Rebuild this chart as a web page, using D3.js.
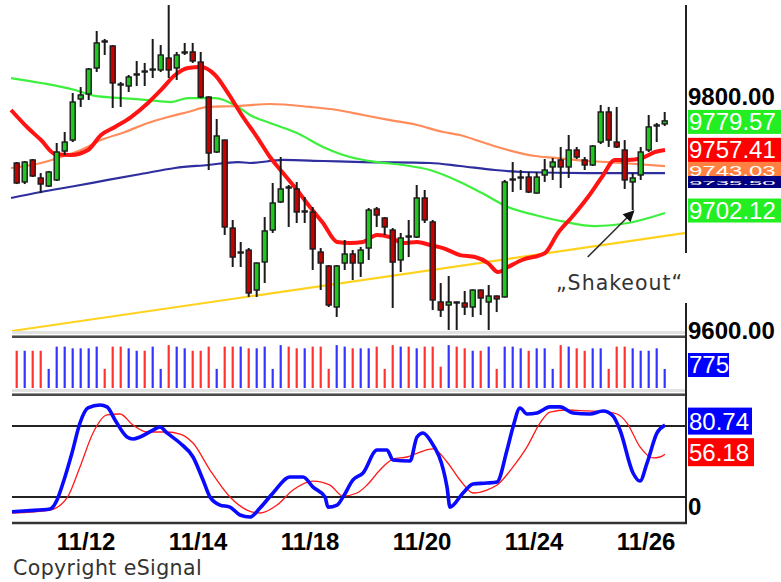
<!DOCTYPE html>
<html><head><meta charset="utf-8">
<script src="https://cdn.jsdelivr.net/npm/d3@7"></script>
<style>html,body{margin:0;padding:0;background:#fff;}svg{display:block}</style>
</head><body>
<svg id="chart" width="781" height="582"></svg>
<script>
// ---------- DATA ----------
// hourly bars, index 0..81
const openP = [9743.6,9727.4,9746.2,9730.8,9723.9,9729.1,9753.8,9763.2,9798.3,9802.6,
 9824.8,9847.9,9843.6,9811.1,9809.4,9818.8,9822.2,9823.1,9823.1,9833.3,
 9824.8,9837.6,9838.5,9829.9,9800.0,9753.0,9763.2,9688.0,9666.7,9669.2,
 9635.0,9659.0,9686.3,9710.3,9723.1,9721.4,9701.7,9701.7,9667.5,9655.6,
 9620.5,9658.1,9665.8,9658.1,9670.9,9704.3,9696.6,9686.3,9660.7,9681.2,
 9680.3,9713.7,9693.2,9624.8,9622.2,9624.8,9623.9,9620.5,9635.0,9624.8,
 9629.9,9629.1,9729.1,9730.8,9731.6,9717.9,9733.3,9740.2,9746.2,9740.2,
 9754.7,9746.2,9741.9,9761.5,9787.2,9761.5,9754.7,9727.4,9733.3,9754.7,
 9775.2,9777.0];
const highP = [9744.4,9745.3,9747.0,9735.0,9736.8,9760.7,9770.1,9803.4,9808.5,9824.8,
 9856.4,9849.6,9844.4,9812.8,9818.8,9830.8,9829.1,9849.6,9844.4,9878.6,
 9838.5,9846.2,9846.2,9838.5,9800.5,9781.2,9763.5,9694.9,9676.1,9670.9,
 9658.5,9697.4,9726.5,9748.7,9724.8,9727.4,9714.5,9706.0,9670.9,9656.4,
 9656.4,9677.8,9669.2,9671.8,9705.1,9706.0,9697.4,9688.0,9683.8,9694.9,
 9724.8,9720.5,9694.9,9641.0,9647.0,9625.2,9634.2,9635.5,9635.5,9639.3,
 9630.3,9729.1,9744.4,9737.6,9735.9,9735.9,9747.0,9747.9,9757.3,9767.5,
 9757.3,9748.7,9759.0,9793.2,9791.5,9791.5,9763.2,9735.0,9757.3,9784.6,
 9777.8,9787.2];
const lowP = [9725.6,9725.6,9731.6,9717.9,9723.1,9728.2,9750.4,9761.5,9791.5,9797.4,
 9821.4,9835.9,9790.6,9791.5,9804.3,9809.4,9809.4,9816.2,9821.4,9816.2,
 9814.5,9835.9,9829.1,9799.0,9737.6,9752.1,9682.1,9654.7,9654.7,9629.1,
 9629.1,9641.0,9683.8,9709.4,9688.9,9692.3,9692.3,9652.1,9635.0,9620.5,
 9612.0,9652.1,9643.6,9646.2,9660.7,9688.9,9682.1,9619.7,9650.4,9663.2,
 9679.5,9692.3,9617.9,9612.0,9600.9,9600.9,9613.7,9612.0,9613.7,9600.9,
 9616.2,9628.6,9718.8,9720.5,9717.9,9717.5,9727.4,9729.1,9722.2,9730.8,
 9747.0,9737.6,9741.0,9759.8,9757.3,9756.4,9721.4,9703.4,9729.1,9753.0,
 9761.5,9775.2];
const closeP = [9726.5,9744.4,9732.5,9725.6,9735.9,9753.0,9761.5,9795.7,9801.7,9823.9,
 9846.2,9847.0,9812.0,9810.3,9817.1,9819.7,9821.4,9823.9,9835.9,9823.1,
 9835.9,9838.5,9830.8,9800.0,9752.1,9766.7,9688.9,9663.2,9667.5,9632.5,
 9658.1,9685.5,9709.4,9721.4,9722.2,9701.7,9702.6,9670.1,9658.1,9622.2,
 9655.6,9665.8,9658.1,9669.2,9703.4,9699.1,9688.9,9658.9,9679.5,9680.3,
 9713.7,9694.9,9626.5,9617.9,9624.8,9624.2,9620.5,9635.0,9628.2,9629.9,
 9627.4,9727.4,9729.9,9731.6,9718.8,9731.6,9737.6,9744.4,9740.2,9754.7,
 9748.7,9741.9,9758.1,9787.2,9763.2,9757.3,9729.1,9730.8,9753.0,9774.4,
 9776.1,9779.57];
const volume = [1520,1520,1520,1520,780,1690,1690,1620,1620,1620,
 1690,780,1690,1690,1620,1520,1520,1690,780,1750,
 1690,1620,1520,1520,1690,780,1690,1690,1690,1620,
 1620,1690,780,1750,1690,1620,1620,1690,1690,780,
 1750,1690,1620,1620,1620,1690,780,1750,1690,1690,
 1620,1690,1690,870,1750,1690,1620,1520,1520,1690,
 780,1690,1690,1620,1520,1620,1620,780,1750,1690,
 1620,1520,1620,1620,780,1690,1690,1620,1520,1520,
 1620,775];

// date ticks: label and first bar of that day
const tickLabels = ["11/12","11/14","11/18","11/20","11/24","11/26"];
const tickBars = [5,19,33,47,61,75];
const priceTicks = [9600, 9800];

// moving averages, sampled [bar index, price]
const maRed = [[-0.71,9788.9],[1.41,9773.5],[3.04,9763.2],[4.79,9751.3],[6.79,9750.4],[8.91,9754.7],
 [10.54,9767.5],[12.29,9774.4],[14.29,9782.9],[16.41,9794.9],[18.04,9806.0],[19.79,9818.8],
 [21.41,9824.8],[23.04,9825.6],[24.79,9818.8],[26.41,9803.4],[28.29,9782.9],[30.04,9765.8],
 [31.66,9748.7],[33.29,9735.0],[35.04,9720.5],[36.66,9706.0],[38.29,9692.3],[40.04,9676.1],
 [41.66,9675.2],[43.29,9676.1],[45.04,9682.1],[46.66,9680.3],[48.29,9675.2],[50.04,9676.1],
 [51.66,9673.5],[53.29,9670.9],[55.41,9664.9],[57.29,9663.2],[58.91,9658.1],[60.16,9650.4],
 [61.41,9654.7],[63.16,9660.7],[66.04,9666.7],[67.66,9683.8],[69.41,9697.4],[71.41,9714.5],
 [73.16,9731.6],[74.79,9746.2],[76.41,9746.2],[78.16,9747.9],[79.79,9753.0],[81.04,9754.7]];
const maOrange = [[-0.71,9739.3],[3.04,9743.6],[5.54,9748.7],[8.04,9754.7],[10.54,9763.2],[13.54,9770.1],
 [16.41,9777.8],[18.91,9782.9],[21.41,9787.2],[23.91,9791.5],[27.66,9792.3],[31.66,9794.0],
 [36.66,9791.5],[40.04,9788.9],[43.29,9784.6],[46.66,9780.3],[50.04,9776.1],[53.29,9770.1],
 [55.41,9767.5],[58.16,9761.5],[61.41,9754.7],[64.79,9749.6],[67.29,9747.9],[71.41,9745.3],
 [75.66,9743.6],[81.04,9741.0]];
const maBlue = [[-0.71,9713.7],[3.04,9718.8],[7.29,9723.9],[11.41,9729.1],[15.54,9734.2],[19.79,9739.3],
 [23.91,9741.9],[27.66,9744.4],[29.16,9743.6],[33.29,9746.2],[38.29,9745.3],[43.29,9744.4],
 [51.66,9743.6],[55.41,9741.0],[59.79,9737.6],[63.16,9735.9],[71.41,9735.0],[81.04,9735.0]];
const maGreen = [[-0.71,9816.2],[3.04,9812.0],[7.29,9806.0],[9.79,9800.9],[13.04,9799.1],[16.41,9797.4],
 [19.29,9795.7],[21.41,9799.1],[24.79,9799.1],[27.66,9791.5],[29.16,9784.6],[31.66,9777.8],
 [35.04,9769.2],[38.29,9757.3],[41.66,9748.7],[45.04,9744.4],[48.29,9741.9],[51.66,9737.6],
 [55.41,9727.4],[58.16,9717.9],[61.41,9706.0],[64.79,9699.1],[68.54,9693.2],[72.29,9689.7],
 [76.41,9692.3],[81.04,9700.9]];
const trendYellow = [[-0.59,9600.0],[83.66,9683.8]];

// stochastic %K and %D, sampled [bar index, value]
const stochK = [[-0.59,7.6],[1.29,8.4],[4.16,9.9],[5.04,17.5],[5.79,31.8],[6.91,57.2],[7.91,82.5],
 [8.91,95.2],[10.41,97.7],[11.29,96.1],[12.29,85.1],[13.79,70.7],[14.54,69.0],[15.41,70.7],
 [17.04,76.6],[17.91,79.2],[18.79,74.1],[20.41,65.6],[22.04,53.8],[23.29,34.4],[24.16,20.0],
 [25.41,13.2],[26.66,11.5],[27.91,4.8],[29.16,3.1],[30.41,10.7],[32.04,23.4],[34.16,36.9],
 [35.79,36.9],[37.04,28.4],[38.54,20.0],[38.91,11.5],[40.04,13.2],[40.79,20.0],[42.04,34.4],
 [43.29,40.3],[45.04,59.7],[46.29,59.7],[47.04,51.3],[49.16,50.4],[50.04,70.7],[50.79,74.1],
 [51.66,68.2],[53.79,28.4],[54.16,11.5],[55.79,23.4],[57.04,31.0],[58.79,31.8],[60.04,32.7],
 [61.29,59.7],[62.04,79.2],[62.91,95.2],[63.79,90.1],[65.04,91.0],[66.66,96.1],[67.91,96.1],
 [69.54,91.0],[71.66,90.1],[73.29,92.7],[74.54,88.5],[75.41,76.6],[77.04,40.3],[77.91,33.5],
 [78.79,48.7],[80.04,74.1],[81.04,80.74]];
const stochD = [[-0.59,6.5],[4.16,9.0],[6.29,19.2],[7.91,45.4],[9.54,74.1],[11.29,89.3],[12.91,90.1],
 [14.54,80.8],[16.29,74.9],[18.79,74.9],[20.41,73.2],[22.04,65.6],[24.16,42.8],[26.66,20.0],
 [28.79,9.0],[30.41,6.5],[32.54,13.2],[34.54,25.9],[37.04,33.5],[39.16,30.1],[40.79,20.8],
 [42.54,23.4],[43.79,30.1],[45.41,42.8],[47.04,52.1],[48.79,53.8],[50.41,58.0],[52.04,60.6],
 [53.79,49.6],[55.41,34.4],[57.04,23.4],[58.79,25.9],[60.04,30.1],[62.04,45.4],[63.79,62.3],
 [65.41,82.5],[66.66,91.8],[68.79,93.5],[71.29,92.7],[73.79,91.8],[75.04,90.1],[76.29,82.5],
 [77.91,62.3],[79.54,53.0],[80.41,53.8],[81.04,56.18]];
const stochLevels = [20, 80];

// last-value labels
const priceLabels = [
  {text:"9702.12", value:9702.12, color:"#22ee22"},
  {text:"9743.03", value:9743.03, color:"#ff8040", partial:true},
  {text:"9757.41", value:9757.41, color:"#ff0000"},
  {text:"9735.50", value:9735.50, color:"#000080", hidden:true},
  {text:"9779.57", value:9779.57, color:"#22ee22"}
];
const labelNudge = [-1, 4, 3, 9, 1];
const volLabel = {text:"775", value:775};
const kLabel = {text:"80.74", value:80.74};
const dLabel = {text:"56.18", value:56.18};
const annotation = {text:"\u201EShakeout\u201C", bar:77};
const copyright = "Copyright eSignal";

// ---------- DRAWING ----------
const svg = d3.select("#chart");
const defs = svg.append("defs");
const x = d3.scaleLinear().domain([0, 81]).range([16.7, 664.7]);
const yP = d3.scaleLinear().domain([9600, 9800]).range([331, 97]);
const yV = d3.scaleLinear().domain([0, 1755]).range([388, 345]);
const yS = d3.scaleLinear().domain([0, 100]).range([520.7, 402.3]);
const LEFT = 12, RIGHT = 686;
const LBL = "'Liberation Sans', Arial, sans-serif";

// MA lines (under candles)
const lineP = d3.line().x(d => x(d[0])).y(d => yP(d[1])).curve(d3.curveMonotoneX);
const gMain = svg.append("g");
gMain.append("path").attr("d", d3.line().x(d=>x(d[0])).y(d=>yP(d[1]))(trendYellow))
  .attr("fill","none").attr("stroke","#ffd21f").attr("stroke-width",2.2);
gMain.append("path").attr("d", lineP(maBlue)).attr("fill","none").attr("stroke","#2e2e9e").attr("stroke-width",2.2);
gMain.append("path").attr("d", lineP(maGreen)).attr("fill","none").attr("stroke","#3df03d").attr("stroke-width",2.2);
gMain.append("path").attr("d", lineP(maOrange)).attr("fill","none").attr("stroke","#ff8c5a").attr("stroke-width",2.2);
gMain.append("path").attr("d", lineP(maRed)).attr("fill","none").attr("stroke","#ff1414").attr("stroke-width",4);

// candles
const idx = d3.range(openP.length);
const gC = svg.append("g");
gC.selectAll("line.wick").data(idx).join("line").attr("class","wick")
  .attr("x1", i => x(i)).attr("x2", i => x(i))
  .attr("y1", i => yP(highP[i])).attr("y2", i => yP(lowP[i]))
  .attr("stroke","#1a1a1a").attr("stroke-width",2);
gC.selectAll("rect.body").data(idx).join("rect").attr("class","body")
  .attr("x", i => x(i) - 2.5).attr("width", 5)
  .attr("y", i => yP(Math.max(openP[i], closeP[i])))
  .attr("height", i => Math.max(1, Math.abs(yP(openP[i]) - yP(closeP[i]))))
  .attr("fill", i => closeP[i] >= openP[i] ? "#1fc81f" : "#c80000")
  .attr("stroke","#1a1a1a").attr("stroke-width",1.4);

// annotation arrow + text
const tipX = x(annotation.bar), tipY = yP(lowP[annotation.bar]);
defs.append("marker").attr("id","ah").attr("viewBox","0 0 10 10")
  .attr("refX",9).attr("refY",5).attr("markerWidth",8).attr("markerHeight",7).attr("orient","auto")
  .append("path").attr("d","M0,0 L10,5 L0,10 z").attr("fill","#111");
svg.append("line").attr("x1", tipX - 45).attr("y1", tipY + 47).attr("x2", tipX + 1).attr("y2", tipY + 1)
  .attr("stroke","#333").attr("stroke-width",1.6).attr("marker-end","url(#ah)");
svg.append("text").attr("x", 556).attr("y", 290).text(annotation.text)
  .attr("font-family","'DejaVu Sans', Verdana, sans-serif").attr("font-size",20.5)
  .attr("letter-spacing",1).attr("fill","#333");

// separators
function separator(y){
  svg.append("rect").attr("x",LEFT).attr("y",y).attr("width",RIGHT-LEFT).attr("height",3).attr("fill","#e2e2e2");
  svg.append("rect").attr("x",LEFT).attr("y",y+4).attr("width",RIGHT-LEFT).attr("height",1).attr("fill","#9a9a9a");
  svg.append("rect").attr("x",LEFT).attr("y",y+5).attr("width",RIGHT-LEFT).attr("height",2).attr("fill","#4a4a4a");
}
separator(331);
separator(389);

// volume
svg.selectAll("line.vol").data(idx).join("line").attr("class","vol")
  .attr("x1", i => x(i)).attr("x2", i => x(i))
  .attr("y1", yV(0)).attr("y2", i => yV(volume[i]))
  .attr("stroke", i => closeP[i] >= openP[i] ? "#3434ff" : "#ff3232").attr("stroke-width",2.2);

// stochastic
const lineS = d3.line().x(d => x(d[0])).y(d => yS(d[1])).curve(d3.curveMonotoneX);
svg.selectAll("line.lvl").data(stochLevels).join("line").attr("class","lvl")
  .attr("x1",LEFT).attr("x2",RIGHT).attr("y1", d => yS(d)).attr("y2", d => yS(d))
  .attr("stroke","#222").attr("stroke-width",2);
svg.append("path").attr("d", lineS(stochD)).attr("fill","none").attr("stroke","#ff1a1a").attr("stroke-width",1.3);
svg.append("path").attr("d", lineS(stochK)).attr("fill","none").attr("stroke","#0a0aff").attr("stroke-width",3.6);
svg.append("line").attr("x1",LEFT).attr("x2",RIGHT+1).attr("y1",523).attr("y2",523).attr("stroke","#333").attr("stroke-width",2.5);

// right axis lines
svg.append("line").attr("x1",RIGHT).attr("x2",RIGHT).attr("y1",5).attr("y2",253).attr("stroke","#222").attr("stroke-width",2);
svg.append("line").attr("x1",RIGHT).attr("x2",RIGHT).attr("y1",303).attr("y2",524).attr("stroke","#222").attr("stroke-width",2);

// price axis tick labels
const axis = d3.axisRight(yP).tickValues(priceTicks).tickFormat(d3.format(".2f")).tickSize(0).tickPadding(0);
const gAx = svg.append("g").attr("transform",`translate(${RIGHT+2},0)`).call(axis);
gAx.select(".domain").remove();
gAx.selectAll("text").attr("font-family",LBL).attr("font-size",24).attr("font-weight","bold")
  .attr("fill","#000").attr("dy","0.33em");

// label boxes
function box(yc, h, color, text, w, mode){
  const g = svg.append("g");
  const top = yc - h/2;
  g.append("rect").attr("x",RIGHT+2).attr("y",top).attr("width",w).attr("height",h).attr("fill",color);
  if (mode === "hidden") {
    // only the tops of the digits show in the reference: a thin white strip of text
    g.append("text").attr("transform",`translate(${RIGHT+3},${top + 9}) scale(1,0.22)`)
      .text(text).attr("font-family",LBL).attr("font-size",24).attr("fill","#fff");
    return;
  }
  if (mode === "partial") {
    // the reference shows this label squeezed between its neighbours
    g.append("text").attr("transform",`translate(${RIGHT+3},${top + 20.5}) scale(1,0.58)`)
      .text(text).attr("font-family",LBL).attr("font-size",24).attr("fill","#fff");
    return;
  }
  g.append("text").attr("x",RIGHT+3).attr("y", yc).attr("dy","0.35em").text(text)
    .attr("font-family",LBL).attr("font-size", 24).attr("fill","#fff");
}
priceLabels.forEach((l,k) => {
  if (l.hidden) box(182, 12, l.color, l.text, 95, "hidden");
  else box(yP(l.value) + labelNudge[k], 24, l.color, l.text, 95, l.partial ? "partial" : null);
});
box(yV(volLabel.value) - 4, 24, "#0000ff", volLabel.text, 41, null);
box(yS(kLabel.value) - 4, 27, "#0000ff", kLabel.text, 64, null);
box(yS(dLabel.value) - 2, 28, "#ff0000", dLabel.text, 66, null);
svg.append("text").attr("x",RIGHT+2).attr("y",yS(0) - 14).attr("dy","0.35em").text("0")
  .attr("font-family",LBL).attr("font-size",24).attr("font-weight","bold");

// date axis
svg.selectAll("text.date").data(tickLabels).join("text").attr("class","date")
  .attr("x", (d,k) => x(tickBars[k])).attr("y", 550).text(d => d)
  .attr("font-family",LBL).attr("font-size",24).attr("font-weight","bold").attr("fill","#000");

svg.append("text").attr("x",13).attr("y",575).text(copyright)
  .attr("font-family","'DejaVu Sans', Verdana, sans-serif").attr("font-size",20.5)
  .attr("letter-spacing",0.4).attr("fill","#333");
</script>
</body></html>
